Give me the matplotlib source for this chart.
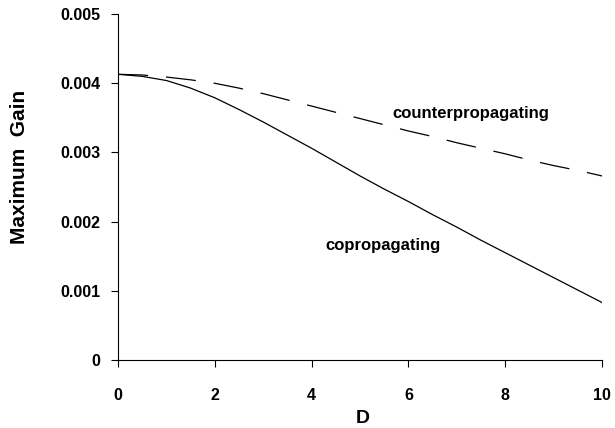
import matplotlib
matplotlib.use("Agg")
import matplotlib.pyplot as plt

# values
d_values = [0, 0.5, 1, 1.5, 2, 2.5, 3, 3.5, 4, 4.5, 5,
            5.5, 6, 6.5, 7, 7.5, 8, 8.5, 9, 9.5, 10]
gain_copropagating = [0.00413, 0.00410, 0.00404, 0.00393, 0.00379, 0.00362,
                      0.00344, 0.00325, 0.00306, 0.00286, 0.00266, 0.00247,
                      0.00229, 0.00210, 0.00192, 0.00173, 0.00155, 0.00137,
                      0.00119, 0.00101, 0.00083]
gain_counterpropagating = [0.00413, 0.00412, 0.00409, 0.00405, 0.00400, 0.00393,
                           0.00385, 0.00376, 0.00367, 0.00358, 0.00349, 0.00340,
                           0.00331, 0.00323, 0.00314, 0.00306, 0.00298, 0.00289,
                           0.00281, 0.00274, 0.00266]
x_ticks = [0, 2, 4, 6, 8, 10]
y_ticks = [0, 0.001, 0.002, 0.003, 0.004, 0.005]
y_tick_labels = ["0", "0.001", "0.002", "0.003", "0.004", "0.005"]

plt.rcParams['font.family'] = ['Liberation Sans', 'DejaVu Sans']
plt.rcParams['font.weight'] = 'bold'

fig = plt.figure(figsize=(6.15, 4.28), dpi=100)
ax = fig.add_axes([0.192, 0.159, 0.787, 0.808])

ax.plot(d_values, gain_copropagating, color='black', lw=0.9)
ax.plot(d_values, gain_counterpropagating, color='black', lw=0.9,
        dashes=(24, 14.4))

ax.text(5.66, 0.00357, "counterpropagating", fontsize=12, fontweight='bold',
        va='center', ha='left')
ax.text(4.28, 0.00165, "copropagating", fontsize=12, fontweight='bold',
        va='center', ha='left')

ax.set_xlim(0, 10)
ax.set_ylim(0, 0.005)
ax.set_xticks(x_ticks)
ax.set_yticks(y_ticks)
ax.set_yticklabels(y_tick_labels)
ax.tick_params(direction='out', length=5, width=0.8, labelsize=11.5)
ax.tick_params(axis='x', pad=15)
ax.tick_params(axis='y', pad=8)
for lbl in ax.get_xticklabels() + ax.get_yticklabels():
    lbl.set_fontweight('bold')

ax.spines['top'].set_visible(False)
ax.spines['right'].set_visible(False)
ax.spines['left'].set_linewidth(0.8)
ax.spines['bottom'].set_linewidth(0.8)

ax.set_xlabel("D", fontsize=14, fontweight='bold')
ax.set_ylabel("Maximum  Gain", fontsize=15, fontweight='bold')
ax.xaxis.set_label_coords(0.505, -0.145)
ax.yaxis.set_label_coords(-0.184, 0.558)

fig.savefig("out.png", dpi=100)
